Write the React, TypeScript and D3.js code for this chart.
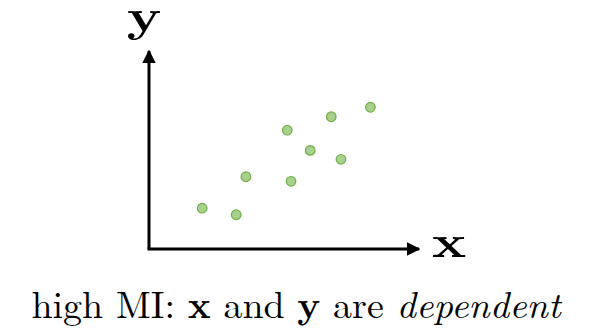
import React from "react";
import * as d3 from "d3";

const xValues = [1.97, 3.23, 3.59, 5.12, 5.26, 5.97, 6.75, 7.11, 8.2];
const yValues = [2.06, 1.73, 3.65, 6.0, 3.42, 4.98, 6.68, 4.53, 7.16];

const W = 595;
const H = 329;

export default function App() {
  const x = d3.scaleLinear().domain([0, 10]).range([149, 419]);
  const y = d3.scaleLinear().domain([0, 10]).range([249, 51]);
  const ox = x(0);
  const oy = y(0);
  const serif = "'Latin Modern Roman', 'CMU Serif', 'Liberation Serif', 'DejaVu Serif', serif";

  return (
    <svg
      width={W}
      height={H}
      style={{ position: "absolute", left: 0, top: 0, background: "#fff" }}
    >
      <defs>
        <marker
          id="head"
          viewBox="0 0 10 10"
          refX="9"
          refY="5"
          markerWidth="4.6"
          markerHeight="4.6"
          orient="auto"
          markerUnits="strokeWidth"
        >
          <path d="M0,0 L10,5 L0,10 Z" fill="#000" />
        </marker>
      </defs>
      {/* axes */}
      <line
        x1={ox}
        y1={oy}
        x2={ox}
        y2={y(10)}
        stroke="#000"
        strokeWidth={3}
        markerEnd="url(#head)"
      />
      <line
        x1={ox - 1.5}
        y1={oy}
        x2={x(10)}
        y2={oy}
        stroke="#000"
        strokeWidth={3}
        markerEnd="url(#head)"
      />
      {/* points */}
      {xValues.map((v, i) => (
        <circle
          key={i}
          cx={x(v)}
          cy={y(yValues[i])}
          r={4.8}
          fill="#a9d18e"
          stroke="#70ad47"
          strokeWidth={1.2}
        />
      ))}
      <g transform="translate(144,31) scale(1.3,1)">
        <text
          x={0}
          y={0}
          textAnchor="middle"
          fontFamily={serif}
          fontWeight="bold"
          fontSize={44}
        >
          y
        </text>
      </g>
      <g transform="translate(449,257) scale(1.3,1)">
        <text
          x={0}
          y={0}
          textAnchor="middle"
          fontFamily={serif}
          fontWeight="bold"
          fontSize={44}
        >
          x
        </text>
      </g>
      <text
        x={296}
        y={318}
        textAnchor="middle"
        fontFamily={serif}
        fontSize={38}
      >
        high MI: <tspan fontWeight="bold">x</tspan> and{" "}
        <tspan fontWeight="bold">y</tspan> are{" "}
        <tspan fontStyle="italic">dependent</tspan>
      </text>
    </svg>
  );
}
